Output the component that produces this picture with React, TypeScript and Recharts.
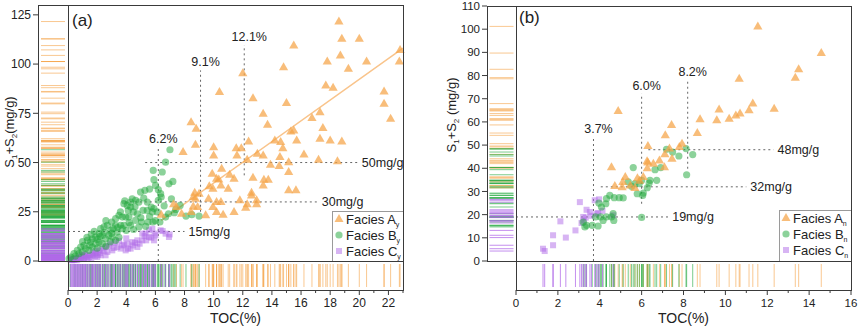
import React from "react";
import { ScatterChart, Scatter, XAxis, YAxis, ReferenceLine, Legend } from "recharts";

type Pt = [number, number]; // [TOC %, S1+S2 mg/g]

// ---------- panel (a) ----------
const aFaciesA: Pt[] = [
  [18.6, 121.6], [18.8, 112.8], [20.0, 112.8], [15.5, 109.4], [18.7, 104.4], [22.8, 107.2], [17.8, 101.3], [20.5, 101.3],
  [22.75, 101.3], [14.8, 98.4], [19.25, 97.6], [12.0, 95.4], [10.4, 85.8], [17.7, 89.1], [18.2, 88.0], [12.7, 82.7],
  [21.7, 86.1], [15.0, 80.2], [21.7, 79.8], [22.15, 72.2], [13.4, 74.8], [17.3, 75.6], [16.75, 72.6], [17.5, 67.5],
  [13.7, 69.2], [8.45, 70.5], [8.8, 67.2], [15.5, 66.3], [15.3, 65.8], [17.3, 62.1], [18.0, 61.2], [18.8, 60.7],
  [14.2, 61.2], [14.6, 60.4], [15.7, 61.2], [12.4, 60.7], [14.75, 57.3], [8.75, 59.0], [7.9, 55.3], [10.0, 57.8],
  [10.0, 53.6], [11.55, 57.3], [11.9, 57.3], [11.6, 53.6], [13.0, 54.5], [13.4, 53.6], [16.2, 54.1], [14.55, 52.8],
  [17.2, 51.4], [18.5, 50.6], [12.3, 51.4], [13.9, 48.9], [14.5, 48.2], [15.15, 50.2], [10.55, 46.9], [9.9, 44.3],
  [11.1, 43.8], [15.15, 45.2], [10.2, 41.8], [10.35, 41.4], [11.4, 41.8], [12.7, 42.3], [13.45, 41.3], [13.75, 41.3],
  [9.7, 37.9], [9.95, 36.7], [10.5, 38.4], [11.0, 36.7], [13.4, 38.4], [15.15, 35.9], [15.65, 35.9], [8.7, 34.7],
  [9.0, 34.2], [12.6, 34.7], [12.6, 33.3], [8.6, 32.5], [8.75, 31.6], [9.65, 31.6], [10.2, 29.9], [10.5, 29.9],
  [11.8, 30.8], [12.95, 30.8], [12.95, 28.8], [12.2, 27.1], [12.3, 28.8], [7.25, 28.8], [7.45, 27.4], [8.6, 27.7],
  [8.9, 27.4], [9.95, 27.4], [10.65, 23.5], [9.45, 23.2], [10.2, 24.9], [11.4, 24.9], [6.4, 23.5], [7.8, 24.0],
  [8.45, 24.9],
];
const aFaciesB: Pt[] = [
  [7.0, 56.5], [6.7, 50.2], [5.85, 46.0], [6.47, 45.2], [7.2, 40.4], [6.93, 39.2], [5.9, 41.3], [6.01, 38.4],
  [6.2, 36.2], [6.36, 34.2], [5.28, 35.9], [4.98, 35.0], [4.64, 30.8], [4.87, 29.9], [4.41, 31.6], [4.3, 29.9],
  [3.84, 29.1], [4.07, 28.2], [4.3, 27.4], [4.14, 25.7], [5.44, 29.9], [5.72, 27.4], [5.9, 26.6], [6.13, 24.9],
  [5.15, 25.7], [5.44, 25.7], [4.48, 24.9], [4.76, 24.0], [5.79, 24.9], [3.5, 23.2], [3.73, 22.3], [3.27, 21.5],
  [3.96, 22.3], [4.18, 22.3], [4.64, 20.6], [5.05, 19.8], [5.5, 19.8], [5.83, 19.8], [6.31, 19.8], [6.7, 22.3],
  [3.0, 19.8], [2.7, 18.1], [2.47, 17.3], [2.24, 16.4], [3.27, 18.1], [3.61, 18.1], [3.84, 18.1], [4.3, 18.1],
  [4.87, 17.3], [5.33, 17.6], [2.93, 15.6], [3.38, 14.7], [3.73, 16.4], [2.13, 13.9], [2.36, 13.0], [1.9, 12.2],
  [1.67, 11.3], [2.58, 11.3], [3.04, 12.2], [3.27, 10.5], [1.33, 10.5], [1.55, 9.6], [1.1, 7.9], [0.87, 7.1],
  [1.9, 8.8], [2.13, 9.6], [2.36, 8.8], [0.64, 5.4], [0.41, 3.7], [0.18, 2.0], [0.07, 1.2], [1.21, 6.3],
  [0.98, 4.6], [0.75, 3.7], [1.67, 7.1], [1.44, 5.4], [7.4, 26.2], [8.1, 22.8], [8.5, 23.5], [9.0, 22.8],
  [7.7, 28.2], [7.1, 31.6], [6.9, 24.0], [7.3, 24.5], [6.2, 30.8], [6.6, 28.0], [1.0, 9.8], [1.3, 12.0],
  [1.6, 13.5], [1.8, 15.0], [2.0, 11.0], [2.2, 12.5], [2.5, 14.5], [2.8, 13.0], [3.1, 16.5], [3.4, 17.0],
  [2.6, 20.5], [3.6, 25.0], [3.9, 30.5], [4.6, 27.5], [5.0, 22.0], [5.6, 22.5], [6.0, 20.5], [4.0, 15.5],
  [4.5, 16.0], [2.9, 9.8], [2.0, 6.5], [1.5, 8.0], [0.5, 2.5], [2.6, 7.5], [3.5, 12.0], [5.2, 32.0],
  [6.4, 32.5], [5.6, 36.5], [4.2, 19.5], [3.0, 14.0],
];
const aFaciesC: Pt[] = [
  [5.79, 16.4], [6.36, 15.6], [6.7, 13.9], [6.93, 12.2], [5.33, 13.9], [5.56, 12.2], [5.1, 10.5], [4.76, 10.5],
  [6.01, 13.0], [5.9, 10.5], [4.41, 9.6], [4.07, 8.8], [3.73, 7.9], [3.38, 7.1], [4.76, 7.1], [4.3, 6.3],
  [3.96, 5.4], [3.61, 6.3], [2.93, 8.8], [2.58, 7.1], [2.36, 6.3], [3.04, 5.4], [2.7, 4.6], [2.13, 5.4],
  [1.9, 4.1], [1.67, 2.9], [1.44, 2.0], [2.24, 2.9], [2.01, 2.0], [2.58, 2.9], [1.21, 2.9], [0.87, 2.0],
  [0.64, 1.2], [0.41, 0.8], [0.18, 0.7], [5.1, 13.9], [5.56, 15.6], [6.5, 15.2], [6.98, 13.5], [5.95, 13.9],
  [5.72, 11.8], [5.37, 10.5], [4.92, 8.8], [4.46, 7.9], [4.12, 6.3], [0.3, 0.5], [0.5, 1.0], [0.8, 1.5],
  [1.0, 2.5], [1.2, 1.8], [1.5, 3.0], [1.7, 4.2], [1.9, 5.0], [2.2, 4.0], [0.6, 0.4], [1.1, 1.0],
  [3.2, 9.5], [3.5, 10.2], [2.8, 7.8], [4.0, 11.5], [0.25, 0.3], [0.35, 0.9], [0.45, 0.6], [0.55, 1.5],
  [0.7, 0.9], [0.75, 2.2], [0.9, 1.2], [0.95, 3.0], [1.05, 1.6], [1.15, 3.4], [1.3, 2.4], [1.35, 1.2],
  [1.6, 1.5], [1.75, 3.5], [1.85, 2.4], [2.05, 3.2], [2.45, 5.2], [3.15, 6.6], [3.85, 8.3], [4.6, 9.2],
  [5.25, 12.6],
];
const aFit: Pt[] = [[6.4, 20.6], [23, 108.1]];
const aTocCuts = [
  { toc: 6.2, lo: 0, hi: 57.8, text: "6.2%" },
  { toc: 9.1, lo: 25, hi: 96.8, text: "9.1%" },
  { toc: 12.1, lo: 43.5, hi: 109.6, text: "12.1%" },
];
const aSCuts = [
  { s: 50, lo: 5.3, hi: 19.9, text: "50mg/g" },
  { s: 30, lo: 3.9, hi: 17.15, text: "30mg/g" },
  { s: 15, lo: 0, hi: 8.0, text: "15mg/g" },
];
const aXTicks = [0, 1, 2, 3, 4, 5, 6, 7, 8, 9, 10, 11, 12, 13, 14, 15, 16, 17, 18, 19, 20, 21, 22, 23];
const aYTicks = [0, 25, 50, 75, 100, 125];

// ---------- panel (b) ----------
const bFaciesA: Pt[] = [
  [11.55, 101.2], [14.58, 89.7], [13.5, 82.7], [13.34, 79.1], [10.66, 78.6], [4.88, 64.7], [9.7, 65.3], [12.33, 65.7],
  [11.31, 67.9], [11.13, 65.0], [10.7, 63.6], [10.5, 62.8], [10.18, 61.4], [9.59, 60.7], [8.79, 61.1], [7.43, 58.7],
  [8.66, 55.2], [7.13, 54.2], [6.3, 49.6], [7.93, 50.6], [7.8, 49.2], [7.33, 48.5], [7.11, 46.0], [7.45, 44.1],
  [6.85, 43.4], [6.26, 43.0], [6.56, 42.0], [7.09, 40.4], [6.27, 40.0], [4.56, 40.4], [4.72, 32.4], [5.22, 36.2],
  [5.1, 34.1], [5.07, 31.8], [5.46, 32.6], [5.8, 35.7], [5.9, 34.6], [5.68, 31.5], [6.08, 36.2], [6.3, 42.5],
];
const bFaciesB: Pt[] = [
  [8.44, 45.9], [8.15, 37.2], [8.12, 48.5], [7.78, 45.3], [7.48, 47.0], [7.19, 48.2], [6.91, 40.3], [6.64, 39.4],
  [6.36, 33.6], [6.4, 34.8], [6.72, 34.8], [6.27, 31.6], [6.05, 28.3], [6.08, 29.3], [5.79, 29.0], [5.6, 40.3],
  [6.0, 34.8], [5.89, 33.4], [5.36, 34.1], [5.52, 32.2], [5.68, 33.4], [6.0, 18.8], [5.12, 27.2], [4.93, 27.3],
  [4.69, 27.3], [4.48, 28.3], [4.32, 26.9], [4.29, 24.7], [4.08, 23.3], [3.96, 25.0], [4.56, 19.0], [4.67, 17.5],
  [4.16, 17.5], [3.92, 15.1], [3.64, 15.4], [3.37, 15.4], [3.21, 16.8], [3.8, 19.0], [4.04, 19.0], [4.32, 19.0],
  [3.29, 14.7], [4.64, 20.4],
];
const bFaciesC: Pt[] = [
  [3.76, 26.2], [3.97, 26.6], [3.05, 25.4], [2.12, 17.1], [2.84, 13.2], [2.38, 10.1], [1.77, 11.1], [1.77, 6.8],
  [1.29, 5.3], [1.37, 4.3], [3.37, 22.1], [3.53, 21.1], [3.6, 19.5], [3.21, 19.0], [3.13, 16.4], [3.24, 17.5],
  [3.92, 20.7], [4.13, 21.6], [4.64, 19.7], [3.33, 18.7], [3.84, 20.4],
];
const bTocCuts = [
  { toc: 3.7, lo: 0, hi: 53.5, text: "3.7%" },
  { toc: 6.0, lo: 24.7, hi: 72.2, text: "6.0%" },
  { toc: 8.2, lo: 39.8, hi: 77.9, text: "8.2%" },
];
const bSCuts = [
  { s: 48, lo: 6.32, hi: 12.3, text: "48mg/g" },
  { s: 32, lo: 4.05, hi: 11.0, text: "32mg/g" },
  { s: 19, lo: 0, hi: 7.27, text: "19mg/g" },
];
const bXTicks = [0, 1, 2, 3, 4, 5, 6, 7, 8, 9, 10, 11, 12, 13, 14, 15, 16];
const bYTicks = [0, 10, 20, 30, 40, 50, 60, 70, 80, 90, 100, 110];

const ORANGE = "#f5a447";
const GREEN = "#22a83e";
const PURPLE = "#b06ae8";
const FRAME = "#3a3a3a";
const PLOT_W = 335;
const RUG_H = 29;
const PAD = 10;
const PAGE_H = 329;

const toXY = (pts: Pt[]) => pts.map(([toc, s]) => ({ toc, s }));
const toY = (pts: Pt[]) => pts.map(([, s]) => ({ r: 0.5, s }));
const toX = (pts: Pt[]) => pts.map(([toc]) => ({ toc, r: 0.5 }));

const triShape = (p: any) => (
  <polygon
    points={`${p.cx},${p.cy - 5} ${p.cx - 4.6},${p.cy + 3} ${p.cx + 4.6},${p.cy + 3}`}
    fill={ORANGE}
    fillOpacity={0.72}
  />
);
const dotShape = (p: any) => <circle cx={p.cx} cy={p.cy} r={3.6} fill={GREEN} fillOpacity={0.52} />;
const sqShape = (p: any) => (
  <rect x={p.cx - 3} y={p.cy - 3} width={6} height={6} fill={PURPLE} fillOpacity={0.5} />
);
const hRug = (c: string, o: number) => (p: any) => (
  <line x1={p.cx - 12} x2={p.cx + 12} y1={p.cy} y2={p.cy} stroke={c} strokeOpacity={o} />
);
const vRug = (c: string, o: number) => (p: any) => (
  <line x1={p.cx} x2={p.cx} y1={p.cy - 11.5} y2={p.cy + 11.5} stroke={c} strokeOpacity={o} />
);

const vLabel = (text: string) => (p: any) => (
  <text x={p.viewBox.x + 5} y={p.viewBox.y - 4} textAnchor="middle" fontSize={12.5} fill="#222">
    {text}
  </text>
);
const hLabel = (text: string) => (p: any) => (
  <text x={p.viewBox.x + p.viewBox.width + 4} y={p.viewBox.y + 4.5} fontSize={12.5} fill="#222">
    {text}
  </text>
);

// rotated y title; (bx, cy) in the rug chart's own coordinates
const yTitle = (gap: string, bx: number, cy: number) => () => (
  <text transform={`translate(${bx},${cy}) rotate(-90)`} textAnchor="middle" fontSize={13} fill="#222">
    S<tspan dy={3} fontSize={8}>1</tspan>
    <tspan dy={-3}>+S</tspan>
    <tspan dy={3} fontSize={8}>2</tspan>
    <tspan dy={-3}>{gap}(mg/g)</tspan>
  </text>
);

const xTick = (fs: number) => (p: any) => {
  const v = p.payload.value;
  const major = v % 2 === 0;
  return (
    <g>
      <line x1={p.x} x2={p.x} y1={p.y} y2={p.y + (major ? 5 : 3)} stroke={FRAME} />
      {major && (
        <text x={p.x} y={p.y + 17} textAnchor="middle" fontSize={fs} fill="#222">
          {v}
        </text>
      )}
    </g>
  );
};

const LegendIcon = ({ kind }: { kind: string }) => (
  <svg width={10} height={16} style={{ marginRight: 2, flex: "none" }}>
    {kind === "A" && <polygon points="5,3 0.5,11 9.5,11" fill={ORANGE} fillOpacity={0.72} />}
    {kind === "B" && <circle cx={5} cy={8} r={3.6} fill={GREEN} fillOpacity={0.52} />}
    {kind === "C" && <rect x={2} y={5} width={6} height={6} fill={PURPLE} fillOpacity={0.5} />}
  </svg>
);

const legendBox = (sub: string) => () => (
  <div
    style={{
      width: "100%",
      height: "100%",
      boxSizing: "border-box",
      border: "1px solid #9a9a9a",
      background: "#fff",
      fontSize: 13,
      color: "#222",
      paddingLeft: 1,
    }}
  >
    <div style={{ position: "relative", top: -1 }}>
      {["A", "B", "C"].map((k) => (
        <div key={k} style={{ display: "flex", alignItems: "center", height: 16, whiteSpace: "nowrap" }}>
          <LegendIcon kind={k} />
          <span>
            Facies {k}
            <sub style={{ fontSize: 7, verticalAlign: "-3px", lineHeight: 0 }}>{sub}</sub>
          </span>
        </div>
      ))}
    </div>
  </div>
);

type Geo = {
  rugX: number; rugW: number; mainX: number; top: number; plotH: number; yAxisW: number;
  titleX: number; titleY: number; legX: number; legY: number; legW: number; legH: number;
  tagX: number; tagY: number; tickFs: number;
};

function Panel(props: {
  A: Pt[]; B: Pt[]; C: Pt[]; fit?: Pt[];
  tocCuts: { toc: number; lo: number; hi: number; text: string }[];
  sCuts: { s: number; lo: number; hi: number; text: string }[];
  xMax: number; yMax: number; xTicks: number[]; yTicks: number[];
  sub: string; tag: string; gap: string; g: Geo;
}) {
  const { A, B, C, fit, tocCuts, sCuts, xMax, yMax, xTicks, yTicks, sub, tag, gap, g } = props;
  const bottomTop = g.top + g.plotH;
  const bottomH = PAGE_H - bottomTop;
  return (
    <>
      {/* left marginal rug with the y axis */}
      <div style={{ position: "absolute", left: g.rugX - g.yAxisW, top: 0 }}>
        <ScatterChart
          width={g.yAxisW + g.rugW}
          height={bottomTop + 10}
          margin={{ top: g.top, right: 0, bottom: 10, left: 0 }}
        >
          <XAxis type="number" dataKey="r" domain={[0, 1]} hide />
          <YAxis
            type="number"
            dataKey="s"
            domain={[0, yMax]}
            ticks={yTicks}
            interval={0}
            width={g.yAxisW}
            axisLine={false}
            tickLine={{ stroke: FRAME }}
            tickSize={5}
            tickMargin={2}
            tick={{ fontSize: g.tickFs, fill: "#222" }}
            label={yTitle(gap, g.titleX, g.titleY)}
          />
          <Scatter data={toY(A)} shape={hRug(ORANGE, 0.6)} isAnimationActive={false} />
          <Scatter data={toY(B)} shape={hRug(GREEN, 0.6)} isAnimationActive={false} />
          <Scatter data={toY(C)} shape={hRug(PURPLE, 0.75)} isAnimationActive={false} />
        </ScatterChart>
      </div>

      {/* bottom marginal rug with the x axis */}
      <div style={{ position: "absolute", left: g.mainX - PAD, top: bottomTop }}>
        <ScatterChart
          width={PLOT_W + 2 * PAD}
          height={bottomH}
          margin={{ top: 0, right: PAD, bottom: 0, left: PAD }}
        >
          <XAxis
            type="number"
            dataKey="toc"
            domain={[0, xMax]}
            ticks={xTicks}
            interval={0}
            height={bottomH - RUG_H}
            axisLine={false}
            tickLine={false}
            tickSize={0}
            tickMargin={0}
            tick={xTick(g.tickFs)}
            label={{ value: "TOC(%)", position: "insideBottom", offset: 6, fontSize: 14, fill: "#222" }}
          />
          <YAxis type="number" dataKey="r" domain={[0, 1]} hide />
          <Scatter data={toX(A)} shape={vRug(ORANGE, 0.6)} isAnimationActive={false} />
          <Scatter data={toX(B)} shape={vRug(GREEN, 0.6)} isAnimationActive={false} />
          <Scatter data={toX(C)} shape={vRug(PURPLE, 0.75)} isAnimationActive={false} />
        </ScatterChart>
      </div>

      {/* main scatter */}
      <div style={{ position: "absolute", left: g.mainX - PAD, top: g.top - PAD }}>
        <ScatterChart
          width={PLOT_W + 2 * PAD}
          height={g.plotH + 2 * PAD}
          margin={{ top: PAD, right: PAD, bottom: PAD, left: PAD }}
        >
          <XAxis type="number" dataKey="toc" domain={[0, xMax]} hide />
          <YAxis type="number" dataKey="s" domain={[0, yMax]} hide />
          {tocCuts.map((c) => (
            <ReferenceLine
              key={c.text}
              segment={[{ x: c.toc, y: c.lo }, { x: c.toc, y: c.hi }]}
              stroke="#666"
              strokeDasharray="2 3"
              label={vLabel(c.text)}
            />
          ))}
          {sCuts.map((c) => (
            <ReferenceLine
              key={c.text}
              segment={[{ x: c.lo, y: c.s }, { x: c.hi, y: c.s }]}
              stroke="#666"
              strokeDasharray="2 3"
              label={hLabel(c.text)}
            />
          ))}
          {fit && (
            <ReferenceLine
              segment={fit.map(([x, y]) => ({ x, y }))}
              stroke="#f9c48b"
              strokeWidth={1.5}
            />
          )}
          <Scatter data={toXY(C)} shape={sqShape} isAnimationActive={false} />
          <Scatter data={toXY(B)} shape={dotShape} isAnimationActive={false} />
          <Scatter data={toXY(A)} shape={triShape} isAnimationActive={false} />
          <Legend
            layout="vertical"
            align="center"
            verticalAlign="middle"
            content={legendBox(sub)}
            wrapperStyle={{
              left: g.legX - (g.mainX - PAD),
              top: g.legY - (g.top - PAD),
              width: g.legW,
              height: g.legH,
            }}
          />
        </ScatterChart>
      </div>

      {/* frames */}
      <div style={{ position: "absolute", left: g.rugX, top: g.top, width: g.rugW + 1, height: g.plotH + 1, border: `1px solid ${FRAME}`, boxSizing: "border-box" }} />
      <div style={{ position: "absolute", left: g.mainX, top: g.top, width: PLOT_W + 1, height: g.plotH + 1, border: `1px solid ${FRAME}`, boxSizing: "border-box" }} />
      <div style={{ position: "absolute", left: g.mainX, top: bottomTop, width: PLOT_W + 1, height: RUG_H + 1, border: `1px solid ${FRAME}`, boxSizing: "border-box" }} />

      <div style={{ position: "absolute", left: g.tagX, top: g.tagY, fontSize: 17, lineHeight: "17px", color: "#222" }}>
        {tag}
      </div>
    </>
  );
}

export default function App() {
  return (
    <div
      style={{
        position: "absolute",
        left: 0,
        top: 0,
        width: 858,
        height: PAGE_H,
        background: "#fff",
        overflow: "hidden",
        fontFamily: "'Liberation Sans', Arial, sans-serif",
      }}
    >
      <Panel
        A={aFaciesA} B={aFaciesB} C={aFaciesC} fit={aFit}
        tocCuts={aTocCuts} sCuts={aSCuts}
        xMax={23} yMax={130} xTicks={aXTicks} yTicks={aYTicks}
        sub="y" tag="(a)" gap=""
        g={{
          rugX: 38, rugW: 30, mainX: 68, top: 5, plotH: 256, yAxisW: 38,
          titleX: 13.5, titleY: 132, legX: 332, legY: 211, legW: 72, legH: 51,
          tagX: 72, tagY: 12, tickFs: 12,
        }}
      />
      <Panel
        A={bFaciesA} B={bFaciesB} C={bFaciesC}
        tocCuts={bTocCuts} sCuts={bSCuts}
        xMax={16} yMax={110} xTicks={bXTicks} yTicks={bYTicks}
        sub="n" tag="(b)" gap=" "
        g={{
          rugX: 487, rugW: 29, mainX: 516, top: 6, plotH: 255, yAxisW: 50,
          titleX: 19, titleY: 115, legX: 779, legY: 210, legW: 73, legH: 52,
          tagX: 519, tagY: 9, tickFs: 11.5,
        }}
      />
    </div>
  );
}
